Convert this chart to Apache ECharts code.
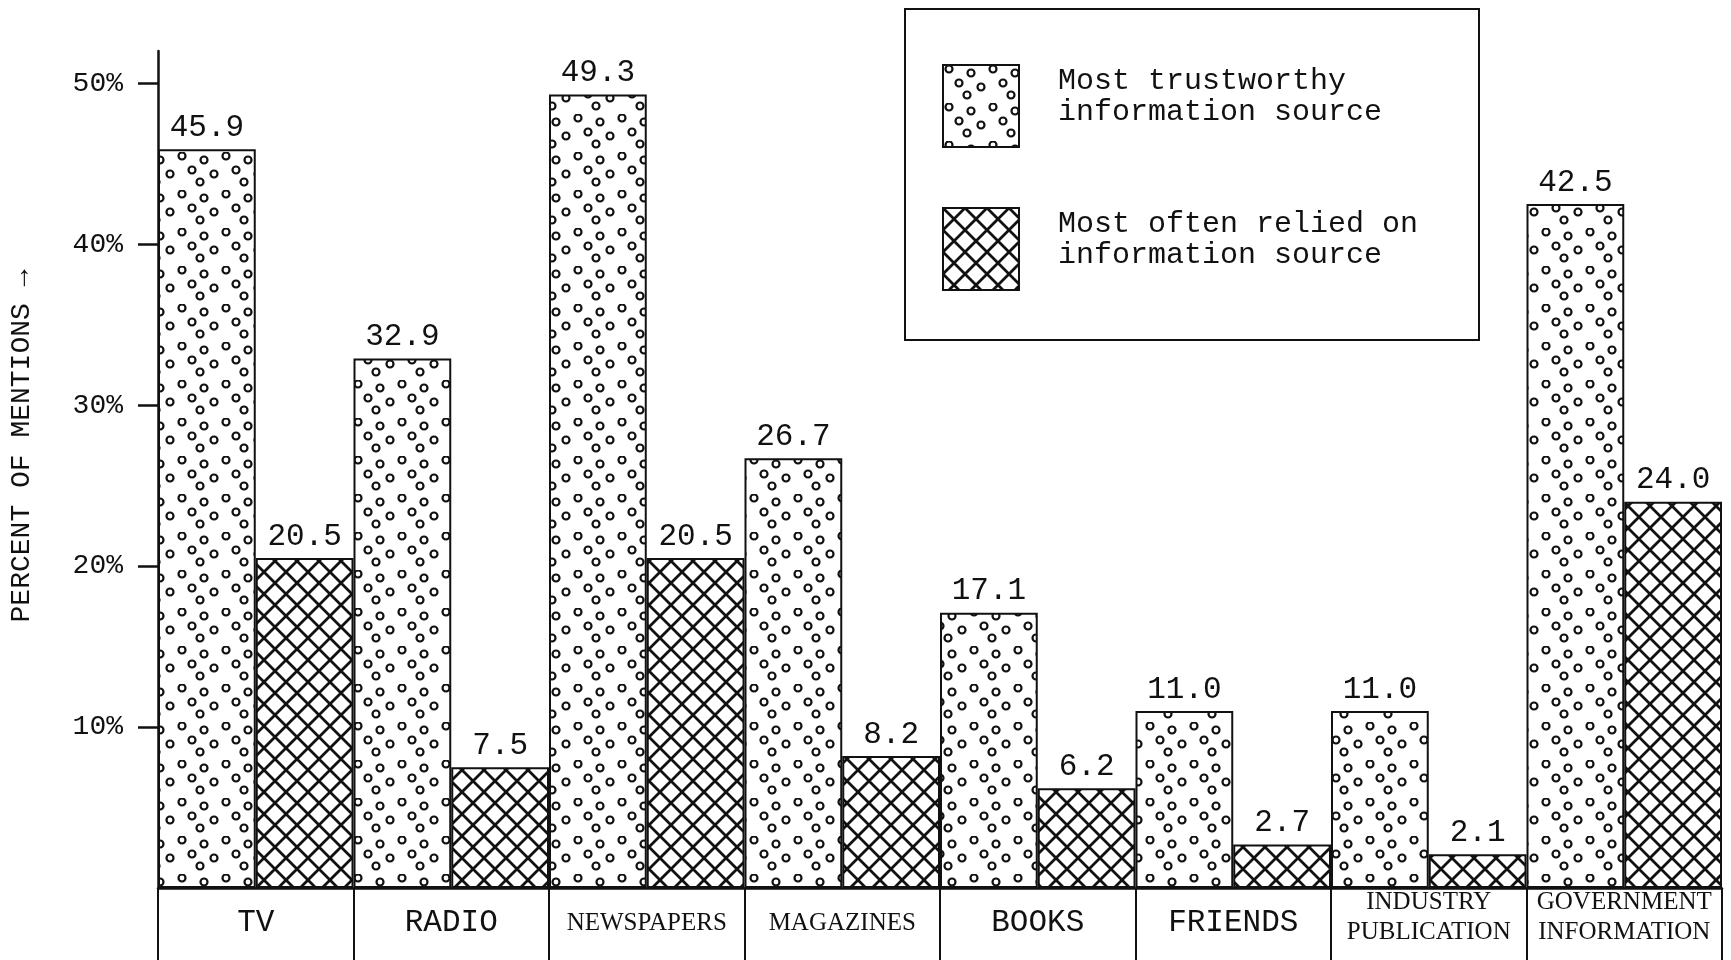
<!DOCTYPE html>
<html>
<head>
<meta charset="utf-8">
<script src="https://cdn.jsdelivr.net/npm/echarts@6/dist/echarts.min.js"></script>
<style>
html, body { margin: 0; padding: 0; background: #fff; }
#chart { width: 1731px; height: 960px; }
</style>
</head>
<body>
<div id="chart"></div>
<script>
// data
var categories = ['TV', 'RADIO', 'NEWSPAPERS', 'MAGAZINES', 'BOOKS', 'FRIENDS', 'INDUSTRY\nPUBLICATION', 'GOVERNMENT\nINFORMATION'];
var trustworthy = [45.9, 32.9, 49.3, 26.7, 17.1, 11.0, 11.0, 42.5];
var reliedOn = [20.5, 7.5, 20.5, 8.2, 6.2, 2.7, 2.1, 24.0];
var yTicks = [10, 20, 30, 40, 50];
var seriesNames = ['Most trustworthy\ninformation source', 'Most often relied on\ninformation source'];
// categories printed in the narrow type on the original
var narrowLabels = ['NEWSPAPERS', 'MAGAZINES', 'INDUSTRY\nPUBLICATION', 'GOVERNMENT\nINFORMATION'];

var MONO = '"Liberation Mono", "DejaVu Sans Mono", monospace';
var SERIF = '"Liberation Serif", "DejaVu Serif", serif';

// dotted screentone
function dotPattern() {
    var c = document.createElement('canvas');
    c.width = 44; c.height = 38;
    var ctx = c.getContext('2d');
    ctx.fillStyle = '#fff';
    ctx.fillRect(0, 0, c.width, c.height);
    ctx.strokeStyle = '#111';
    ctx.lineWidth = 2.2;
    var pts = [[6, 4], [28, 8], [16, 18], [38, 22], [24, 30]];
    pts.forEach(function (p) {
        ctx.beginPath();
        ctx.arc(p[0], p[1], 3.5, 0, Math.PI * 2);
        ctx.stroke();
    });
    return c;
}

// cross hatch
function hatchPattern(size) {
    var c = document.createElement('canvas');
    c.width = size; c.height = size;
    var ctx = c.getContext('2d');
    ctx.fillStyle = '#fff';
    ctx.fillRect(0, 0, size, size);
    ctx.strokeStyle = '#111';
    ctx.lineWidth = 2.8;
    ctx.beginPath();
    ctx.moveTo(-2, -2); ctx.lineTo(size + 2, size + 2);
    ctx.moveTo(size + 2, -2); ctx.lineTo(-2, size + 2);
    ctx.stroke();
    return c;
}

var dots = { image: dotPattern(), repeat: 'repeat' };
var hatch = { image: hatchPattern(22), repeat: 'repeat' };

var chart = echarts.init(document.getElementById('chart'));

var valueLabel = {
    show: true,
    position: 'top',
    distance: 6,
    color: '#111',
    fontFamily: MONO,
    fontSize: 31,
    formatter: function (p) { return p.value.toFixed(1); }
};

var option = {
    backgroundColor: '#fff',
    animation: false,
    grid: {
        left: 158,
        right: 9,
        top: 51,
        bottom: 72
    },
    legend: {
        orient: 'vertical',
        left: 942,
        top: 64,
        padding: 0,
        itemWidth: 76,
        itemHeight: 82,
        itemGap: 59,
        selectedMode: false,
        icon: 'rect',
        formatter: function (name) {
            return name.split('\n').map(function (s) { return '{t|' + s + '}'; }).join('\n') + '\n{e|}';
        },
        textStyle: {
            color: '#111',
            padding: [0, 0, 0, 34],
            rich: {
                t: { fontFamily: MONO, fontSize: 30, lineHeight: 31, color: '#111' },
                e: { fontSize: 10, lineHeight: 18 }
            }
        },
        data: seriesNames
    },
    xAxis: {
        type: 'category',
        data: categories,
        axisLine: { show: true, lineStyle: { color: '#111', width: 2.5 } },
        axisTick: {
            show: true,
            interval: 0,
            length: 74,
            lineStyle: { color: '#111', width: 2 }
        },
        axisLabel: {
            interval: 0,
            margin: 35,
            verticalAlign: 'middle',
            color: '#111',
            formatter: function (v) {
                if (narrowLabels.indexOf(v) >= 0) {
                    var txt = v.split('\n').map(function (s) { return '{n|' + s + '}'; }).join('\n');
                    // two-line labels sit a little higher on the original
                    return v.indexOf('\n') >= 0 ? txt + '\n{e|}' : txt;
                }
                return '{m|' + v + '}';
            },
            rich: {
                m: { fontFamily: MONO, fontSize: 31, color: '#111', lineHeight: 30 },
                n: { fontFamily: SERIF, fontSize: 25, color: '#111', lineHeight: 30 },
                e: { fontSize: 8, lineHeight: 12 }
            }
        }
    },
    yAxis: {
        type: 'value',
        min: 0,
        max: 52,
        interval: 10,
        splitLine: { show: false },
        axisLine: { show: true, lineStyle: { color: '#111', width: 2.5 } },
        axisTick: {
            show: true,
            length: 20,
            customValues: yTicks,
            lineStyle: { color: '#111', width: 2.5 }
        },
        axisLabel: {
            margin: 35,
            customValues: yTicks,
            color: '#111',
            fontFamily: MONO,
            fontSize: 28,
            formatter: function (v) { return v + '%'; }
        }
    },
    series: [{
        name: seriesNames[0],
        type: 'bar',
        barGap: '0%',
        barCategoryGap: '0%',
        itemStyle: { color: dots, borderColor: '#111', borderWidth: 2 },
        label: valueLabel,
        data: trustworthy
    }, {
        name: seriesNames[1],
        type: 'bar',
        barGap: '0%',
        barCategoryGap: '0%',
        itemStyle: { color: hatch, borderColor: '#111', borderWidth: 2 },
        label: valueLabel,
        data: reliedOn
    }],
    graphic: [{
        type: 'rect',
        shape: { x: 905, y: 9, width: 574, height: 331 },
        style: { fill: 'none', stroke: '#111', lineWidth: 2 },
        silent: true
    }, {
        type: 'text',
        x: 22,
        y: 446,
        rotation: Math.PI / 2,
        style: {
            text: 'PERCENT OF MENTIONS \u2192',
            fill: '#111',
            font: '28px ' + MONO,
            align: 'center',
            verticalAlign: 'middle'
        },
        silent: true
    }]
};

chart.setOption(option);
window.addEventListener('resize', function () { chart.resize(); });
</script>
</body>
</html>
